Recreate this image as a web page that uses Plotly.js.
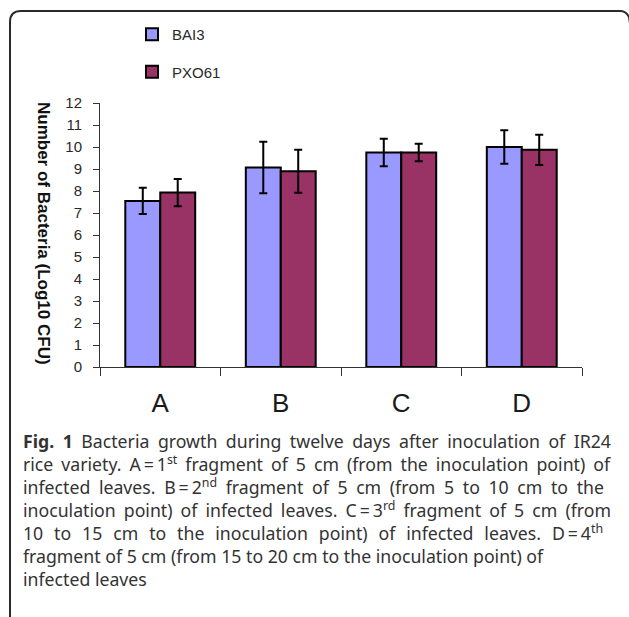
<!DOCTYPE html>
<html>
<head>
<meta charset="utf-8">
<script src="https://cdn.plot.ly/plotly-3.0.1.min.js"></script>
<style>
  html, body { margin: 0; padding: 0; background: #fff; }
  #chart { width: 629px; height: 617px; }
</style>
</head>
<body>
<div id="chart"></div>
<script>
// ---- data ----
const categories = ['A', 'B', 'C', 'D'];
const seriesNames = ['BAI3', 'PXO61'];
const bai3 = [7.55, 9.07, 9.75, 10.0];
const bai3Err = [0.6, 1.17, 0.62, 0.76];
const pxo61 = [7.93, 8.9, 9.75, 9.87];
const pxo61Err = [0.62, 0.98, 0.4, 0.69];
const yTitle = 'Number of Bacteria (Log10 CFU)';
const captionLines = [
  '<b>Fig. 1</b> Bacteria growth during twelve days after inoculation of IR24',
  'rice variety. A\u2009=\u20091<sup>st</sup> fragment of 5 cm (from the inoculation point) of',
  'infected leaves. B\u2009=\u20092<sup>nd</sup> fragment of 5 cm (from 5 to 10 cm to the',
  'inoculation point) of infected leaves. C\u2009=\u20093<sup>rd</sup> fragment of 5 cm (from',
  '10 to 15 cm to the inoculation point) of infected leaves. D\u2009=\u20094<sup>th</sup>',
  'fragment of 5 cm (from 15 to 20 cm to the inoculation point) of',
  'infected leaves'
];

// ---- layout geometry (pixels) ----
const W = 629, H = 617;
const L = 100, R = 47, T = 103, B = 250;
const pw = W - L - R, ph = H - T - B;
const px = x => (x - L) / pw;
const py = y => (H - B - y) / ph;
const capLeft = 21;
const lineRightEdges = [609, 608, 602, 609, 601];

function borderPath() {
  const p = (x, y) => px(x).toFixed(5) + ',' + py(y).toFixed(5);
  return 'M' + p(10, 625) + ' L' + p(10, 22) + ' Q' + p(10, 11) + ' ' + p(21, 11) +
         ' L' + p(620, 11) + ' Q' + p(626, 11) + ' ' + p(629, 17) + ' L' + p(631, 30);
}

const axisFont = { family: 'Liberation Sans, Arial, sans-serif', size: 15, color: '#2a2a2a' };

const traces = [
  {
    type: 'bar', name: seriesNames[0], x: categories, y: bai3, legendgroup: 'g1',
    marker: { color: '#9999FF', line: { color: '#000', width: 2 } },
    error_y: { type: 'data', array: bai3Err, visible: true, color: '#000', thickness: 2, width: 4 }
  },
  {
    type: 'bar', name: seriesNames[1], x: categories, y: pxo61, legendgroup: 'g2',
    marker: { color: '#993366', line: { color: '#000', width: 2 } },
    error_y: { type: 'data', array: pxo61Err, visible: true, color: '#000', thickness: 2, width: 4 }
  }
];

const layout = {
  width: W, height: H,
  margin: { l: L, r: R, t: T, b: B, pad: 0 },
  paper_bgcolor: '#fff', plot_bgcolor: '#fff',
  barmode: 'group', bargap: 0.42, bargroupgap: 0,
  showlegend: true,
  legend: {
    x: px(132), y: py(18), xanchor: 'left', yanchor: 'top',
    orientation: 'v', traceorder: 'grouped', tracegroupgap: 15,
    font: { family: 'Liberation Sans, Arial, sans-serif', size: 15, color: '#2a2a2a' },
    bgcolor: 'rgba(0,0,0,0)'
  },
  xaxis: {
    type: 'category', showline: true, linecolor: '#333', linewidth: 1,
    ticks: 'outside', tickson: 'boundaries', ticklen: 8, tickcolor: '#333', tickwidth: 1,
    showgrid: false, zeroline: false, ticklabelstandoff: 13,
    tickfont: { family: 'Liberation Sans, Arial, sans-serif', size: 26, color: '#1a1a1a' }
  },
  yaxis: {
    range: [0, 12], dtick: 1, tick0: 0, showline: true, linecolor: '#333', linewidth: 1,
    ticks: 'outside', ticklen: 6, tickcolor: '#333', tickwidth: 1,
    showgrid: false, zeroline: false, ticklabelstandoff: 8,
    tickfont: axisFont, fixedrange: true
  },
  shapes: [
    { type: 'path', xref: 'paper', yref: 'paper', path: borderPath(),
      line: { color: '#2a2a2a', width: 2 }, fillcolor: 'rgba(0,0,0,0)' }
  ],
  annotations: [
    { text: '<b>' + yTitle + '</b>', textangle: 90, xref: 'paper', yref: 'paper',
      x: px(44), y: py(233), xanchor: 'center', yanchor: 'middle', showarrow: false,
      font: { family: 'Liberation Sans, Arial, sans-serif', size: 17, color: '#111' } },
    { text: captionLines.join('<br>'), xref: 'paper', yref: 'paper',
      x: px(capLeft), y: py(427), xanchor: 'left', yanchor: 'top', align: 'left', showarrow: false,
      font: { family: 'Noto Sans, Open Sans, sans-serif', size: 17.7, color: '#333' } }
  ]
};

Plotly.newPlot('chart', traces, layout, { displayModeBar: false, staticPlot: true }).then(gd => {
  // justify the caption lines like the printed figure legend
  const texts = gd.querySelectorAll('text.annotation-text');
  texts.forEach(t => {
    if (t.textContent.indexOf('Fig.') !== 0) return;
    const lines = t.querySelectorAll('tspan.line');
    lines.forEach((ln, i) => {
      if (i >= lineRightEdges.length) return;
      const w = ln.getComputedTextLength();
      const spaces = (ln.textContent.match(/ /g) || []).length;
      const extra = (lineRightEdges[i] - capLeft) - w;
      if (spaces > 0 && extra > 0) ln.style.wordSpacing = (extra / spaces).toFixed(2) + 'px';
    });
  });
});
</script>
</body>
</html>
